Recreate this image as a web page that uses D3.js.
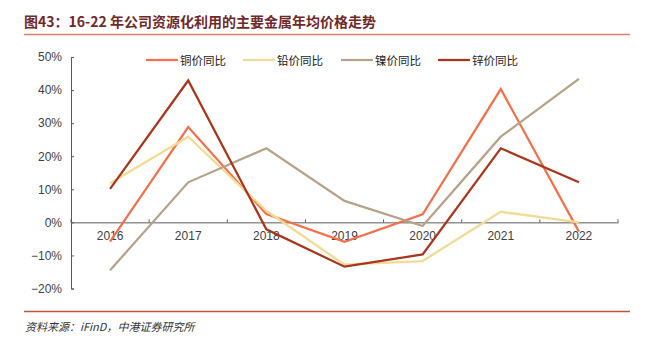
<!DOCTYPE html>
<html><head><meta charset="utf-8">
<script src="https://cdn.jsdelivr.net/npm/d3@7"></script>
<style>
body{margin:0;background:#fff;}
svg{display:block;}
</style></head>
<body>
<svg id="c" width="645" height="345"></svg>
<script>
const years = ["2016","2017","2018","2019","2020","2021","2022"];
const seriesNames = ["铜价同比","铅价同比","镍价同比","锌价同比"];
const copper = [-0.058, 0.288, 0.025, -0.059, 0.024, 0.403, -0.028];
const lead   = [0.118, 0.259, 0.035, -0.128, -0.117, 0.032, 0.0];
const nickel = [-0.145, 0.121, 0.224, 0.065, -0.011, 0.259, 0.434];
const zinc   = [0.101, 0.429, -0.021, -0.134, -0.097, 0.224, 0.121];
const yTicks = [-0.2, -0.1, 0, 0.1, 0.2, 0.3, 0.4, 0.5];
const colors = ["#F2704C", "#F1DB94", "#B5A289", "#A8361C"];
const allSeries = [copper, lead, nickel, zinc];

const svg = d3.select("#c");
const titleColor = "#6E2A2A";

// Title
svg.append("text").attr("x", 24).attr("y", 27)
  .attr("font-family", "Noto Sans CJK SC, Liberation Sans, sans-serif")
  .attr("font-size", 14).attr("font-weight", "bold").attr("fill", titleColor)
  .text("图43：16-22 年公司资源化利用的主要金属年均价格走势");
svg.append("line").attr("x1", 24).attr("x2", 630).attr("y1", 34.5).attr("y2", 34.5)
  .attr("stroke", "#DA8066").attr("stroke-width", 1.5);

// Footer
svg.append("line").attr("x1", 24).attr("x2", 630).attr("y1", 311.5).attr("y2", 311.5)
  .attr("stroke", "#B9573D").attr("stroke-width", 1.5);
svg.append("text").attr("x", 25).attr("y", 331)
  .attr("font-family", "Noto Sans CJK SC, Liberation Sans, sans-serif")
  .attr("font-size", 11).attr("font-style", "italic").attr("fill", "#333")
  .text("资料来源：iFinD，中港证券研究所");

const x = d3.scaleBand().domain(years).range([71, 618]).paddingInner(0).paddingOuter(0);
const y = d3.scaleLinear().domain([-0.2, 0.5]).range([288.5, 57]);
const cx = d => x(d) + x.bandwidth() / 2;
const axisColor = "#5A5A5A";

// Y axis
const yAxis = svg.append("g").attr("transform", "translate(71,0)")
  .call(d3.axisLeft(y).tickValues(yTicks).tickFormat(d3.format(".0%")).tickSize(-3).tickPadding(9));
yAxis.select(".domain").attr("stroke", axisColor).attr("stroke-width", 1);
yAxis.selectAll(".tick line").attr("stroke", axisColor);
yAxis.selectAll(".tick text").attr("font-family", "Liberation Sans, Arial, sans-serif")
  .attr("font-size", 12).attr("fill", "#404040");

// X axis at 0
const xAxis = svg.append("g").attr("transform", `translate(0,${y(0)})`)
  .call(d3.axisBottom(x).tickSize(0).tickPadding(9));
xAxis.select(".domain").attr("stroke", axisColor).attr("stroke-width", 1);
xAxis.selectAll(".tick text").attr("font-family", "Liberation Sans, Arial, sans-serif")
  .attr("font-size", 12).attr("fill", "#404040");
const bounds = years.map(d => x(d)).concat([x(years[years.length - 1]) + x.bandwidth()]);
xAxis.selectAll(".bt").data(bounds).join("line").attr("class", "bt")
  .attr("x1", d => d).attr("x2", d => d).attr("y1", 0).attr("y2", -3)
  .attr("stroke", axisColor);

// Lines
const line = d3.line().x((d, i) => cx(years[i])).y(d => y(d));
allSeries.forEach((s, k) => {
  svg.append("path").datum(s).attr("d", line).attr("fill", "none")
    .attr("stroke", colors[k]).attr("stroke-width", 2.25).attr("stroke-linejoin", "miter");
});

// Legend
const legendX = [146, 243, 341, 438];
seriesNames.forEach((n, k) => {
  const g = svg.append("g").attr("transform", `translate(${legendX[k]},60)`);
  g.append("line").attr("x1", 0).attr("x2", 32).attr("y1", 0).attr("y2", 0)
    .attr("stroke", colors[k]).attr("stroke-width", 2.25);
  g.append("text").attr("x", 34).attr("y", 4.5)
    .attr("font-family", "Noto Sans CJK SC, sans-serif").attr("font-size", 11.5).attr("fill", "#222")
    .text(n);
});
</script>
</body></html>
